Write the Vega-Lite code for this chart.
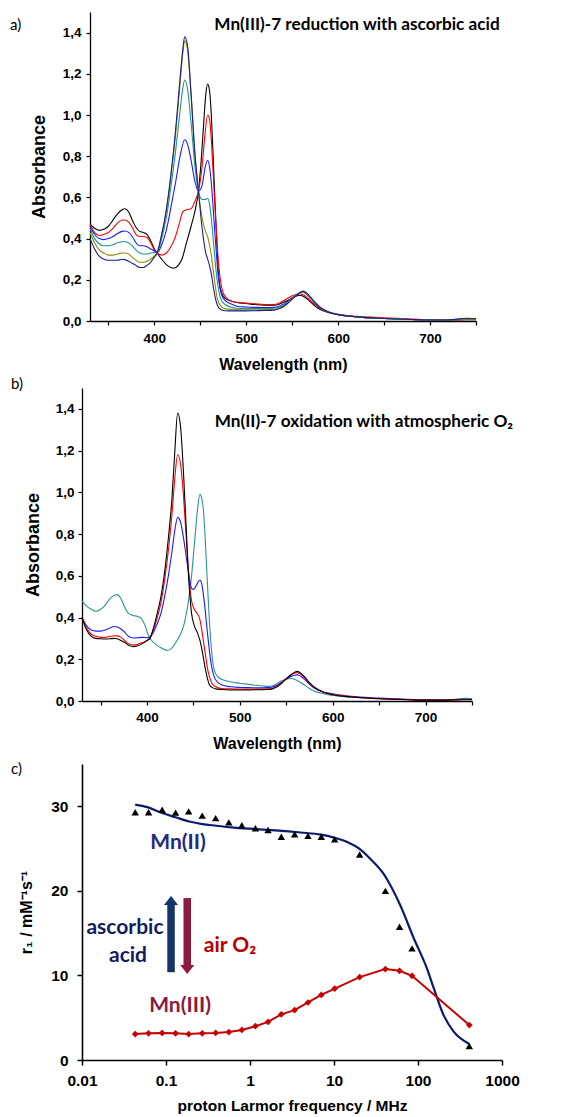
{
  "$schema": "https://vega.github.io/schema/vega-lite/v6.json",
  "background": "white",
  "padding": {"left": 10, "top": 12, "right": 5, "bottom": 0},
  "config": {
    "view": {"stroke": null},
    "axis": {"grid": false, "domainColor": "black", "tickColor": "black", "labelColor": "black", "titleColor": "black", "labelFont": "Liberation Sans", "titleFont": "Liberation Sans", "labelFontWeight": "bold", "titleFontWeight": "bold", "labelOverlap": false, "labelFlush": false}
  },
  "resolve": {"scale": {"color": "independent"}},
  "datasets": {
    "specA": [
      {"c":"k","w":330,"a":0.47},{"c":"k","w":335,"a":0.45},{"c":"k","w":340,"a":0.44},{"c":"k","w":345,"a":0.445},{"c":"k","w":350,"a":0.46},{"c":"k","w":355,"a":0.49},{"c":"k","w":360,"a":0.52},{"c":"k","w":365,"a":0.54},{"c":"k","w":368,"a":0.545},{"c":"k","w":372,"a":0.53},{"c":"k","w":376,"a":0.49},{"c":"k","w":380,"a":0.455},{"c":"k","w":384,"a":0.435},{"c":"k","w":388,"a":0.43},{"c":"k","w":392,"a":0.42},{"c":"k","w":396,"a":0.39},{"c":"k","w":400,"a":0.35},{"c":"k","w":403,"a":0.33},{"c":"k","w":408,"a":0.30},{"c":"k","w":414,"a":0.27},{"c":"k","w":421,"a":0.256},{"c":"k","w":426,"a":0.27},{"c":"k","w":430,"a":0.30},{"c":"k","w":435,"a":0.38},{"c":"k","w":440,"a":0.46},{"c":"k","w":444,"a":0.53},{"c":"k","w":448,"a":0.63},{"c":"k","w":451,"a":0.78},{"c":"k","w":454,"a":0.98},{"c":"k","w":456,"a":1.10},{"c":"k","w":458,"a":1.15},{"c":"k","w":460,"a":1.12},{"c":"k","w":462,"a":1.00},{"c":"k","w":464,"a":0.80},{"c":"k","w":466,"a":0.58},{"c":"k","w":468,"a":0.38},{"c":"k","w":470,"a":0.22},{"c":"k","w":473,"a":0.14},{"c":"k","w":477,"a":0.11},{"c":"k","w":485,"a":0.095},{"c":"k","w":490,"a":0.09},{"c":"k","w":500,"a":0.085},{"c":"k","w":510,"a":0.08},{"c":"k","w":520,"a":0.077},{"c":"k","w":530,"a":0.077},{"c":"k","w":535,"a":0.08},{"c":"k","w":540,"a":0.09},{"c":"k","w":545,"a":0.10},{"c":"k","w":550,"a":0.113},{"c":"k","w":555,"a":0.122},{"c":"k","w":558,"a":0.125},{"c":"k","w":562,"a":0.12},{"c":"k","w":566,"a":0.108},{"c":"k","w":570,"a":0.092},{"c":"k","w":575,"a":0.072},{"c":"k","w":580,"a":0.057},{"c":"k","w":590,"a":0.04},{"c":"k","w":600,"a":0.03},{"c":"k","w":620,"a":0.02},{"c":"k","w":650,"a":0.012},{"c":"k","w":680,"a":0.007},{"c":"k","w":700,"a":0.005},{"c":"k","w":720,"a":0.004},{"c":"k","w":740,"a":0.006},{"c":"k","w":750,"a":0.006},
      {"c":"r","w":330,"a":0.47},{"c":"r","w":335,"a":0.43},{"c":"r","w":340,"a":0.415},{"c":"r","w":345,"a":0.42},{"c":"r","w":350,"a":0.43},{"c":"r","w":355,"a":0.45},{"c":"r","w":360,"a":0.475},{"c":"r","w":365,"a":0.49},{"c":"r","w":368,"a":0.49},{"c":"r","w":372,"a":0.48},{"c":"r","w":376,"a":0.455},{"c":"r","w":380,"a":0.42},{"c":"r","w":384,"a":0.41},{"c":"r","w":388,"a":0.41},{"c":"r","w":392,"a":0.405},{"c":"r","w":396,"a":0.38},{"c":"r","w":400,"a":0.345},{"c":"r","w":403,"a":0.33},{"c":"r","w":408,"a":0.32},{"c":"r","w":413,"a":0.33},{"c":"r","w":418,"a":0.36},{"c":"r","w":423,"a":0.41},{"c":"r","w":427,"a":0.47},{"c":"r","w":431,"a":0.53},{"c":"r","w":435,"a":0.54},{"c":"r","w":440,"a":0.545},{"c":"r","w":444,"a":0.58},{"c":"r","w":448,"a":0.63},{"c":"r","w":452,"a":0.75},{"c":"r","w":455,"a":0.90},{"c":"r","w":458,"a":1.00},{"c":"r","w":460,"a":0.98},{"c":"r","w":462,"a":0.88},{"c":"r","w":464,"a":0.72},{"c":"r","w":466,"a":0.55},{"c":"r","w":468,"a":0.40},{"c":"r","w":470,"a":0.27},{"c":"r","w":473,"a":0.17},{"c":"r","w":477,"a":0.12},{"c":"r","w":485,"a":0.095},{"c":"r","w":490,"a":0.09},{"c":"r","w":500,"a":0.087},{"c":"r","w":510,"a":0.083},{"c":"r","w":520,"a":0.08},{"c":"r","w":530,"a":0.08},{"c":"r","w":535,"a":0.085},{"c":"r","w":540,"a":0.097},{"c":"r","w":545,"a":0.11},{"c":"r","w":550,"a":0.122},{"c":"r","w":555,"a":0.13},{"c":"r","w":558,"a":0.132},{"c":"r","w":562,"a":0.127},{"c":"r","w":566,"a":0.115},{"c":"r","w":570,"a":0.098},{"c":"r","w":575,"a":0.078},{"c":"r","w":580,"a":0.062},{"c":"r","w":590,"a":0.043},{"c":"r","w":600,"a":0.033},{"c":"r","w":620,"a":0.023},{"c":"r","w":650,"a":0.016},{"c":"r","w":680,"a":0.01},{"c":"r","w":700,"a":0.006},{"c":"r","w":720,"a":0.005},{"c":"r","w":740,"a":0.007},{"c":"r","w":750,"a":0.007},
      {"c":"b","w":330,"a":0.46},{"c":"b","w":335,"a":0.42},{"c":"b","w":340,"a":0.40},{"c":"b","w":345,"a":0.395},{"c":"b","w":350,"a":0.40},{"c":"b","w":355,"a":0.41},{"c":"b","w":360,"a":0.425},{"c":"b","w":365,"a":0.435},{"c":"b","w":368,"a":0.437},{"c":"b","w":372,"a":0.43},{"c":"b","w":376,"a":0.41},{"c":"b","w":380,"a":0.38},{"c":"b","w":384,"a":0.365},{"c":"b","w":388,"a":0.365},{"c":"b","w":392,"a":0.36},{"c":"b","w":396,"a":0.35},{"c":"b","w":400,"a":0.34},{"c":"b","w":403,"a":0.33},{"c":"b","w":408,"a":0.37},{"c":"b","w":413,"a":0.44},{"c":"b","w":418,"a":0.55},{"c":"b","w":423,"a":0.67},{"c":"b","w":428,"a":0.80},{"c":"b","w":433,"a":0.88},{"c":"b","w":436,"a":0.86},{"c":"b","w":440,"a":0.78},{"c":"b","w":444,"a":0.68},{"c":"b","w":448,"a":0.63},{"c":"b","w":452,"a":0.66},{"c":"b","w":455,"a":0.74},{"c":"b","w":458,"a":0.78},{"c":"b","w":460,"a":0.75},{"c":"b","w":462,"a":0.67},{"c":"b","w":464,"a":0.55},{"c":"b","w":466,"a":0.42},{"c":"b","w":468,"a":0.30},{"c":"b","w":470,"a":0.20},{"c":"b","w":473,"a":0.13},{"c":"b","w":477,"a":0.10},{"c":"b","w":485,"a":0.08},{"c":"b","w":490,"a":0.072},{"c":"b","w":500,"a":0.068},{"c":"b","w":510,"a":0.066},{"c":"b","w":520,"a":0.065},{"c":"b","w":530,"a":0.066},{"c":"b","w":535,"a":0.07},{"c":"b","w":540,"a":0.08},{"c":"b","w":545,"a":0.095},{"c":"b","w":550,"a":0.112},{"c":"b","w":555,"a":0.128},{"c":"b","w":559,"a":0.138},{"c":"b","w":562,"a":0.14},{"c":"b","w":566,"a":0.128},{"c":"b","w":570,"a":0.11},{"c":"b","w":575,"a":0.085},{"c":"b","w":580,"a":0.065},{"c":"b","w":590,"a":0.042},{"c":"b","w":600,"a":0.032},{"c":"b","w":620,"a":0.02},{"c":"b","w":650,"a":0.012},{"c":"b","w":680,"a":0.007},{"c":"b","w":700,"a":0.005},{"c":"b","w":720,"a":0.005},{"c":"b","w":740,"a":0.012},{"c":"b","w":750,"a":0.01},
      {"c":"t","w":330,"a":0.45},{"c":"t","w":335,"a":0.40},{"c":"t","w":340,"a":0.375},{"c":"t","w":345,"a":0.365},{"c":"t","w":350,"a":0.365},{"c":"t","w":355,"a":0.37},{"c":"t","w":360,"a":0.38},{"c":"t","w":365,"a":0.385},{"c":"t","w":368,"a":0.385},{"c":"t","w":372,"a":0.38},{"c":"t","w":376,"a":0.365},{"c":"t","w":380,"a":0.345},{"c":"t","w":384,"a":0.33},{"c":"t","w":388,"a":0.325},{"c":"t","w":392,"a":0.325},{"c":"t","w":396,"a":0.33},{"c":"t","w":400,"a":0.332},{"c":"t","w":403,"a":0.33},{"c":"t","w":408,"a":0.40},{"c":"t","w":413,"a":0.50},{"c":"t","w":418,"a":0.65},{"c":"t","w":423,"a":0.82},{"c":"t","w":428,"a":1.02},{"c":"t","w":431,"a":1.13},{"c":"t","w":433,"a":1.17},{"c":"t","w":436,"a":1.13},{"c":"t","w":440,"a":0.96},{"c":"t","w":444,"a":0.76},{"c":"t","w":448,"a":0.63},{"c":"t","w":452,"a":0.59},{"c":"t","w":455,"a":0.59},{"c":"t","w":458,"a":0.595},{"c":"t","w":460,"a":0.57},{"c":"t","w":462,"a":0.50},{"c":"t","w":464,"a":0.40},{"c":"t","w":466,"a":0.30},{"c":"t","w":468,"a":0.21},{"c":"t","w":470,"a":0.15},{"c":"t","w":473,"a":0.10},{"c":"t","w":477,"a":0.08},{"c":"t","w":485,"a":0.065},{"c":"t","w":490,"a":0.062},{"c":"t","w":500,"a":0.06},{"c":"t","w":510,"a":0.06},{"c":"t","w":520,"a":0.06},{"c":"t","w":530,"a":0.062},{"c":"t","w":535,"a":0.066},{"c":"t","w":540,"a":0.075},{"c":"t","w":545,"a":0.09},{"c":"t","w":550,"a":0.11},{"c":"t","w":555,"a":0.127},{"c":"t","w":559,"a":0.137},{"c":"t","w":562,"a":0.14},{"c":"t","w":566,"a":0.13},{"c":"t","w":570,"a":0.112},{"c":"t","w":575,"a":0.087},{"c":"t","w":580,"a":0.066},{"c":"t","w":590,"a":0.042},{"c":"t","w":600,"a":0.031},{"c":"t","w":620,"a":0.02},{"c":"t","w":650,"a":0.012},{"c":"t","w":680,"a":0.007},{"c":"t","w":700,"a":0.005},{"c":"t","w":720,"a":0.005},{"c":"t","w":740,"a":0.01},{"c":"t","w":750,"a":0.009},
      {"c":"o","w":330,"a":0.43},{"c":"o","w":335,"a":0.38},{"c":"o","w":340,"a":0.345},{"c":"o","w":345,"a":0.33},{"c":"o","w":350,"a":0.32},{"c":"o","w":355,"a":0.32},{"c":"o","w":360,"a":0.325},{"c":"o","w":365,"a":0.33},{"c":"o","w":368,"a":0.33},{"c":"o","w":372,"a":0.325},{"c":"o","w":376,"a":0.31},{"c":"o","w":380,"a":0.295},{"c":"o","w":384,"a":0.285},{"c":"o","w":388,"a":0.285},{"c":"o","w":392,"a":0.29},{"c":"o","w":396,"a":0.30},{"c":"o","w":400,"a":0.315},{"c":"o","w":403,"a":0.33},{"c":"o","w":408,"a":0.42},{"c":"o","w":413,"a":0.53},{"c":"o","w":418,"a":0.70},{"c":"o","w":423,"a":0.90},{"c":"o","w":428,"a":1.15},{"c":"o","w":431,"a":1.30},{"c":"o","w":433,"a":1.36},{"c":"o","w":436,"a":1.32},{"c":"o","w":440,"a":1.10},{"c":"o","w":444,"a":0.82},{"c":"o","w":448,"a":0.63},{"c":"o","w":452,"a":0.50},{"c":"o","w":456,"a":0.43},{"c":"o","w":458,"a":0.41},{"c":"o","w":460,"a":0.37},{"c":"o","w":462,"a":0.32},{"c":"o","w":464,"a":0.25},{"c":"o","w":466,"a":0.18},{"c":"o","w":468,"a":0.12},{"c":"o","w":470,"a":0.09},{"c":"o","w":473,"a":0.07},{"c":"o","w":477,"a":0.06},{"c":"o","w":485,"a":0.056},{"c":"o","w":490,"a":0.055},{"c":"o","w":500,"a":0.054},{"c":"o","w":510,"a":0.054},{"c":"o","w":520,"a":0.055},{"c":"o","w":530,"a":0.057},{"c":"o","w":535,"a":0.062},{"c":"o","w":540,"a":0.072},{"c":"o","w":545,"a":0.088},{"c":"o","w":550,"a":0.108},{"c":"o","w":555,"a":0.126},{"c":"o","w":559,"a":0.138},{"c":"o","w":562,"a":0.141},{"c":"o","w":566,"a":0.131},{"c":"o","w":570,"a":0.113},{"c":"o","w":575,"a":0.088},{"c":"o","w":580,"a":0.067},{"c":"o","w":590,"a":0.043},{"c":"o","w":600,"a":0.031},{"c":"o","w":620,"a":0.02},{"c":"o","w":650,"a":0.012},{"c":"o","w":680,"a":0.007},{"c":"o","w":700,"a":0.005},{"c":"o","w":720,"a":0.005},{"c":"o","w":740,"a":0.01},{"c":"o","w":750,"a":0.009},
      {"c":"n","w":330,"a":0.40},{"c":"n","w":335,"a":0.35},{"c":"n","w":340,"a":0.315},{"c":"n","w":345,"a":0.30},{"c":"n","w":350,"a":0.295},{"c":"n","w":355,"a":0.295},{"c":"n","w":360,"a":0.295},{"c":"n","w":365,"a":0.30},{"c":"n","w":368,"a":0.298},{"c":"n","w":372,"a":0.29},{"c":"n","w":376,"a":0.28},{"c":"n","w":380,"a":0.27},{"c":"n","w":384,"a":0.26},{"c":"n","w":388,"a":0.26},{"c":"n","w":392,"a":0.27},{"c":"n","w":396,"a":0.285},{"c":"n","w":400,"a":0.31},{"c":"n","w":403,"a":0.33},{"c":"n","w":408,"a":0.42},{"c":"n","w":413,"a":0.54},{"c":"n","w":418,"a":0.71},{"c":"n","w":423,"a":0.92},{"c":"n","w":428,"a":1.18},{"c":"n","w":431,"a":1.32},{"c":"n","w":433,"a":1.38},{"c":"n","w":436,"a":1.34},{"c":"n","w":440,"a":1.10},{"c":"n","w":444,"a":0.82},{"c":"n","w":448,"a":0.63},{"c":"n","w":452,"a":0.45},{"c":"n","w":456,"a":0.33},{"c":"n","w":458,"a":0.30},{"c":"n","w":460,"a":0.27},{"c":"n","w":462,"a":0.23},{"c":"n","w":464,"a":0.17},{"c":"n","w":466,"a":0.12},{"c":"n","w":468,"a":0.085},{"c":"n","w":470,"a":0.065},{"c":"n","w":473,"a":0.055},{"c":"n","w":477,"a":0.05},{"c":"n","w":485,"a":0.049},{"c":"n","w":490,"a":0.049},{"c":"n","w":500,"a":0.049},{"c":"n","w":510,"a":0.05},{"c":"n","w":520,"a":0.051},{"c":"n","w":530,"a":0.053},{"c":"n","w":535,"a":0.058},{"c":"n","w":540,"a":0.068},{"c":"n","w":545,"a":0.085},{"c":"n","w":550,"a":0.106},{"c":"n","w":555,"a":0.126},{"c":"n","w":559,"a":0.14},{"c":"n","w":562,"a":0.145},{"c":"n","w":566,"a":0.135},{"c":"n","w":570,"a":0.116},{"c":"n","w":575,"a":0.09},{"c":"n","w":580,"a":0.068},{"c":"n","w":590,"a":0.043},{"c":"n","w":600,"a":0.031},{"c":"n","w":620,"a":0.02},{"c":"n","w":650,"a":0.012},{"c":"n","w":680,"a":0.007},{"c":"n","w":700,"a":0.005},{"c":"n","w":720,"a":0.005},{"c":"n","w":740,"a":0.013},{"c":"n","w":750,"a":0.011}
    ],
    "specB": [
      {"c":"t","w":330,"a":0.48},{"c":"t","w":335,"a":0.455},{"c":"t","w":340,"a":0.44},{"c":"t","w":345,"a":0.43},{"c":"t","w":350,"a":0.44},{"c":"t","w":355,"a":0.46},{"c":"t","w":360,"a":0.49},{"c":"t","w":364,"a":0.505},{"c":"t","w":368,"a":0.51},{"c":"t","w":372,"a":0.49},{"c":"t","w":376,"a":0.45},{"c":"t","w":380,"a":0.42},{"c":"t","w":385,"a":0.41},{"c":"t","w":390,"a":0.405},{"c":"t","w":394,"a":0.395},{"c":"t","w":398,"a":0.36},{"c":"t","w":401,"a":0.32},{"c":"t","w":405,"a":0.29},{"c":"t","w":410,"a":0.27},{"c":"t","w":415,"a":0.255},{"c":"t","w":422,"a":0.242},{"c":"t","w":427,"a":0.255},{"c":"t","w":431,"a":0.28},{"c":"t","w":435,"a":0.31},{"c":"t","w":440,"a":0.37},{"c":"t","w":444,"a":0.46},{"c":"t","w":448,"a":0.60},{"c":"t","w":451,"a":0.75},{"c":"t","w":454,"a":0.90},{"c":"t","w":457,"a":0.99},{"c":"t","w":459,"a":0.97},{"c":"t","w":461,"a":0.90},{"c":"t","w":463,"a":0.75},{"c":"t","w":465,"a":0.57},{"c":"t","w":467,"a":0.40},{"c":"t","w":469,"a":0.27},{"c":"t","w":471,"a":0.18},{"c":"t","w":474,"a":0.13},{"c":"t","w":478,"a":0.11},{"c":"t","w":485,"a":0.097},{"c":"t","w":495,"a":0.088},{"c":"t","w":505,"a":0.082},{"c":"t","w":515,"a":0.077},{"c":"t","w":525,"a":0.072},{"c":"t","w":532,"a":0.07},{"c":"t","w":538,"a":0.078},{"c":"t","w":544,"a":0.095},{"c":"t","w":550,"a":0.105},{"c":"t","w":555,"a":0.108},{"c":"t","w":560,"a":0.102},{"c":"t","w":565,"a":0.09},{"c":"t","w":570,"a":0.075},{"c":"t","w":575,"a":0.06},{"c":"t","w":580,"a":0.048},{"c":"t","w":590,"a":0.035},{"c":"t","w":600,"a":0.026},{"c":"t","w":620,"a":0.018},{"c":"t","w":650,"a":0.011},{"c":"t","w":680,"a":0.007},{"c":"t","w":700,"a":0.005},{"c":"t","w":720,"a":0.005},{"c":"t","w":740,"a":0.012},{"c":"t","w":745,"a":0.013},{"c":"t","w":750,"a":0.01},
      {"c":"b","w":330,"a":0.40},{"c":"b","w":335,"a":0.36},{"c":"b","w":340,"a":0.34},{"c":"b","w":345,"a":0.335},{"c":"b","w":350,"a":0.335},{"c":"b","w":355,"a":0.34},{"c":"b","w":360,"a":0.35},{"c":"b","w":365,"a":0.357},{"c":"b","w":368,"a":0.355},{"c":"b","w":372,"a":0.345},{"c":"b","w":376,"a":0.33},{"c":"b","w":380,"a":0.31},{"c":"b","w":385,"a":0.302},{"c":"b","w":390,"a":0.303},{"c":"b","w":395,"a":0.305},{"c":"b","w":400,"a":0.303},{"c":"b","w":403,"a":0.305},{"c":"b","w":407,"a":0.33},{"c":"b","w":411,"a":0.37},{"c":"b","w":415,"a":0.42},{"c":"b","w":419,"a":0.50},{"c":"b","w":423,"a":0.60},{"c":"b","w":427,"a":0.72},{"c":"b","w":430,"a":0.82},{"c":"b","w":433,"a":0.88},{"c":"b","w":436,"a":0.86},{"c":"b","w":439,"a":0.79},{"c":"b","w":442,"a":0.70},{"c":"b","w":445,"a":0.61},{"c":"b","w":448,"a":0.54},{"c":"b","w":450,"a":0.535},{"c":"b","w":452,"a":0.545},{"c":"b","w":455,"a":0.57},{"c":"b","w":457,"a":0.58},{"c":"b","w":459,"a":0.56},{"c":"b","w":461,"a":0.50},{"c":"b","w":463,"a":0.42},{"c":"b","w":465,"a":0.33},{"c":"b","w":467,"a":0.25},{"c":"b","w":469,"a":0.18},{"c":"b","w":472,"a":0.12},{"c":"b","w":476,"a":0.09},{"c":"b","w":482,"a":0.075},{"c":"b","w":490,"a":0.068},{"c":"b","w":500,"a":0.065},{"c":"b","w":510,"a":0.064},{"c":"b","w":520,"a":0.063},{"c":"b","w":530,"a":0.064},{"c":"b","w":535,"a":0.067},{"c":"b","w":540,"a":0.076},{"c":"b","w":545,"a":0.09},{"c":"b","w":550,"a":0.105},{"c":"b","w":555,"a":0.117},{"c":"b","w":559,"a":0.123},{"c":"b","w":562,"a":0.125},{"c":"b","w":566,"a":0.117},{"c":"b","w":570,"a":0.102},{"c":"b","w":575,"a":0.08},{"c":"b","w":580,"a":0.062},{"c":"b","w":590,"a":0.043},{"c":"b","w":600,"a":0.035},{"c":"b","w":620,"a":0.022},{"c":"b","w":650,"a":0.014},{"c":"b","w":680,"a":0.008},{"c":"b","w":700,"a":0.005},{"c":"b","w":720,"a":0.005},{"c":"b","w":740,"a":0.008},{"c":"b","w":750,"a":0.008},
      {"c":"r","w":330,"a":0.40},{"c":"r","w":335,"a":0.35},{"c":"r","w":340,"a":0.32},{"c":"r","w":345,"a":0.31},{"c":"r","w":350,"a":0.305},{"c":"r","w":355,"a":0.305},{"c":"r","w":360,"a":0.31},{"c":"r","w":365,"a":0.313},{"c":"r","w":368,"a":0.312},{"c":"r","w":372,"a":0.305},{"c":"r","w":376,"a":0.29},{"c":"r","w":380,"a":0.275},{"c":"r","w":385,"a":0.268},{"c":"r","w":390,"a":0.272},{"c":"r","w":395,"a":0.28},{"c":"r","w":400,"a":0.29},{"c":"r","w":403,"a":0.30},{"c":"r","w":407,"a":0.34},{"c":"r","w":411,"a":0.40},{"c":"r","w":415,"a":0.47},{"c":"r","w":419,"a":0.58},{"c":"r","w":423,"a":0.72},{"c":"r","w":427,"a":0.90},{"c":"r","w":430,"a":1.07},{"c":"r","w":433,"a":1.18},{"c":"r","w":436,"a":1.14},{"c":"r","w":439,"a":1.00},{"c":"r","w":442,"a":0.80},{"c":"r","w":445,"a":0.60},{"c":"r","w":448,"a":0.48},{"c":"r","w":451,"a":0.44},{"c":"r","w":454,"a":0.42},{"c":"r","w":457,"a":0.39},{"c":"r","w":459,"a":0.34},{"c":"r","w":461,"a":0.28},{"c":"r","w":463,"a":0.22},{"c":"r","w":465,"a":0.16},{"c":"r","w":467,"a":0.12},{"c":"r","w":470,"a":0.085},{"c":"r","w":474,"a":0.068},{"c":"r","w":480,"a":0.06},{"c":"r","w":490,"a":0.058},{"c":"r","w":500,"a":0.057},{"c":"r","w":510,"a":0.057},{"c":"r","w":520,"a":0.057},{"c":"r","w":530,"a":0.058},{"c":"r","w":535,"a":0.061},{"c":"r","w":540,"a":0.071},{"c":"r","w":545,"a":0.088},{"c":"r","w":550,"a":0.108},{"c":"r","w":555,"a":0.125},{"c":"r","w":559,"a":0.134},{"c":"r","w":562,"a":0.136},{"c":"r","w":566,"a":0.127},{"c":"r","w":570,"a":0.11},{"c":"r","w":575,"a":0.085},{"c":"r","w":580,"a":0.065},{"c":"r","w":590,"a":0.042},{"c":"r","w":600,"a":0.032},{"c":"r","w":620,"a":0.02},{"c":"r","w":650,"a":0.012},{"c":"r","w":680,"a":0.007},{"c":"r","w":700,"a":0.004},{"c":"r","w":720,"a":0.004},{"c":"r","w":740,"a":0.007},{"c":"r","w":750,"a":0.007},
      {"c":"k","w":330,"a":0.40},{"c":"k","w":335,"a":0.34},{"c":"k","w":340,"a":0.31},{"c":"k","w":345,"a":0.30},{"c":"k","w":350,"a":0.298},{"c":"k","w":355,"a":0.297},{"c":"k","w":360,"a":0.298},{"c":"k","w":365,"a":0.30},{"c":"k","w":368,"a":0.298},{"c":"k","w":372,"a":0.29},{"c":"k","w":376,"a":0.28},{"c":"k","w":380,"a":0.268},{"c":"k","w":385,"a":0.26},{"c":"k","w":390,"a":0.265},{"c":"k","w":395,"a":0.275},{"c":"k","w":400,"a":0.29},{"c":"k","w":403,"a":0.30},{"c":"k","w":407,"a":0.35},{"c":"k","w":411,"a":0.42},{"c":"k","w":415,"a":0.50},{"c":"k","w":419,"a":0.62},{"c":"k","w":423,"a":0.78},{"c":"k","w":427,"a":0.98},{"c":"k","w":430,"a":1.20},{"c":"k","w":433,"a":1.38},{"c":"k","w":436,"a":1.32},{"c":"k","w":439,"a":1.12},{"c":"k","w":442,"a":0.85},{"c":"k","w":445,"a":0.58},{"c":"k","w":448,"a":0.42},{"c":"k","w":451,"a":0.36},{"c":"k","w":454,"a":0.33},{"c":"k","w":457,"a":0.29},{"c":"k","w":459,"a":0.25},{"c":"k","w":461,"a":0.20},{"c":"k","w":463,"a":0.15},{"c":"k","w":465,"a":0.11},{"c":"k","w":467,"a":0.08},{"c":"k","w":470,"a":0.065},{"c":"k","w":474,"a":0.058},{"c":"k","w":480,"a":0.055},{"c":"k","w":490,"a":0.053},{"c":"k","w":500,"a":0.053},{"c":"k","w":510,"a":0.053},{"c":"k","w":520,"a":0.054},{"c":"k","w":530,"a":0.055},{"c":"k","w":535,"a":0.058},{"c":"k","w":540,"a":0.068},{"c":"k","w":545,"a":0.085},{"c":"k","w":550,"a":0.106},{"c":"k","w":555,"a":0.126},{"c":"k","w":559,"a":0.138},{"c":"k","w":562,"a":0.142},{"c":"k","w":566,"a":0.132},{"c":"k","w":570,"a":0.114},{"c":"k","w":575,"a":0.088},{"c":"k","w":580,"a":0.067},{"c":"k","w":590,"a":0.042},{"c":"k","w":600,"a":0.03},{"c":"k","w":620,"a":0.019},{"c":"k","w":650,"a":0.011},{"c":"k","w":680,"a":0.006},{"c":"k","w":700,"a":0.004},{"c":"k","w":720,"a":0.004},{"c":"k","w":740,"a":0.006},{"c":"k","w":750,"a":0.006}
    ],
    "fitC": [
      {"f":0.043,"r":30.2},{"f":0.06,"r":29.9},{"f":0.09,"r":29.2},{"f":0.13,"r":28.7},{"f":0.19,"r":28.2},{"f":0.27,"r":27.9},{"f":0.4,"r":27.7},{"f":0.6,"r":27.5},{"f":1,"r":27.35},{"f":2,"r":27.15},{"f":4,"r":26.9},{"f":7,"r":26.65},{"f":10,"r":26.3},{"f":15,"r":25.7},{"f":20,"r":25.0},{"f":27,"r":23.8},{"f":39,"r":22.0},{"f":49,"r":20.3},{"f":61.5,"r":18.3},{"f":89,"r":14.4},{"f":128,"r":10.8},{"f":154,"r":8.5},{"f":202,"r":5.3},{"f":266,"r":3.35},{"f":408,"r":1.9}
    ],
    "mn2C": [
      {"f":0.043,"r":29.3},{"f":0.062,"r":29.3},{"f":0.09,"r":29.6},{"f":0.13,"r":29.25},{"f":0.186,"r":29.4},{"f":0.27,"r":28.9},{"f":0.39,"r":28.6},{"f":0.56,"r":28.1},{"f":0.8,"r":27.75},{"f":1.16,"r":27.4},{"f":1.64,"r":27.2},{"f":2.36,"r":26.4},{"f":3.4,"r":26.7},{"f":4.9,"r":26.5},{"f":7.06,"r":26.4},{"f":10.2,"r":26.1},{"f":20.2,"r":24.3},{"f":40.9,"r":20.0},{"f":60.3,"r":15.75},{"f":84.9,"r":13.2},{"f":408,"r":1.65}
    ],
    "mn3C": [
      {"f":0.043,"r":3.07},{"f":0.062,"r":3.15},{"f":0.09,"r":3.2},{"f":0.13,"r":3.15},{"f":0.186,"r":3.07},{"f":0.27,"r":3.15},{"f":0.39,"r":3.2},{"f":0.56,"r":3.3},{"f":0.8,"r":3.55},{"f":1.16,"r":4.0},{"f":1.64,"r":4.5},{"f":2.36,"r":5.4},{"f":3.4,"r":5.9},{"f":4.9,"r":6.8},{"f":7.06,"r":7.7},{"f":10.2,"r":8.45},{"f":20.2,"r":9.8},{"f":40.9,"r":10.75},{"f":60.3,"r":10.55},{"f":84.9,"r":9.95},{"f":408,"r":4.13}
    ],
    "arrowsC": [
      {"d":"up","f":0.1148,"r1":10.38,"r2":18.5,"h":18.86},
      {"d":"down","f":0.179,"r1":19.15,"r2":11.0,"h":10.7}
    ],
    "textC": [
      {"g":"mn2","t":"Mn(II)","f":0.139,"r":25.7},
      {"g":"acid","t":"ascorbic","f":0.0325,"r":15.6},
      {"g":"acid","t":"acid","f":0.0353,"r":12.3},
      {"g":"o2","t":"air O₂","f":0.578,"r":13.5},
      {"g":"mn3","t":"Mn(III)","f":0.147,"r":6.4}
    ]
  },
  "concat": [
    {
      "width": 394,
      "height": 309,
      "layer": [
        {
          "data": {"name": "specA"},
          "mark": {"type": "line", "strokeWidth": 1.1, "interpolate": "monotone"},
          "encoding": {
            "x": {"field": "w", "type": "quantitative", "title": "Wavelength (nm)",
              "scale": {"domain": [330, 750], "range": [8, 394], "nice": false, "zero": false},
              "axis": {"values": [350, 400, 450, 500, 550, 600, 650, 700, 750], "labelExpr": "datum.value % 100 === 0 ? datum.label : ''", "tickSize": 4, "labelPadding": 6, "labelFontSize": 13.5, "titleFontSize": 16, "titlePadding": 12, "domainWidth": 1.3, "tickWidth": 1.2}},
            "y": {"field": "a", "type": "quantitative", "title": "Absorbance",
              "scale": {"domain": [0, 1.5], "nice": false},
              "axis": {"values": [0, 0.1, 0.2, 0.3, 0.4, 0.5, 0.6, 0.7, 0.8, 0.9, 1.0, 1.1, 1.2, 1.3, 1.4], "labelExpr": "round(datum.value * 10) % 2 === 0 ? replace(format(datum.value, '.1f'), '.', ',') : ''", "tickSize": 4, "labelPadding": 5, "labelFontSize": 13.5, "titleFontSize": 18, "titlePadding": 14, "offset": -8, "domainWidth": 1.3, "tickWidth": 1.2}},
            "color": {"field": "c", "type": "nominal", "legend": null,
              "scale": {"domain": ["k", "r", "b", "t", "o", "n"], "range": ["#000000", "#ff0000", "#1a1aff", "#1a9494", "#8f8f00", "#1c1c8c"]}}
          }
        },
        {
          "data": {"values": [{"t": "a)", "x": 243, "y": 1.437}]},
          "mark": {"type": "text", "font": "Lato", "fontSize": 15, "align": "left", "baseline": "middle", "color": "black"},
          "encoding": {
            "x": {"field": "x", "type": "quantitative", "title": "Wavelength (nm)", "scale": {"domain": [330, 750], "range": [8, 394], "nice": false, "zero": false}},
            "y": {"field": "y", "type": "quantitative", "title": "Absorbance", "scale": {"domain": [0, 1.5], "nice": false}},
            "text": {"field": "t"}
          }
        },
        {
          "data": {"values": [{"t": "Mn(III)-7 reduction with ascorbic acid", "x": 620.5, "y": 1.437}]},
          "mark": {"type": "text", "font": "Lato", "fontSize": 17.2, "fontWeight": "bold", "align": "center", "baseline": "middle", "color": "black"},
          "encoding": {
            "x": {"field": "x", "type": "quantitative", "title": "Wavelength (nm)", "scale": {"domain": [330, 750], "range": [8, 394], "nice": false, "zero": false}},
            "y": {"field": "y", "type": "quantitative", "title": "Absorbance", "scale": {"domain": [0, 1.5], "nice": false}},
            "text": {"field": "t"}
          }
        }
      ]
    },
    {
      "width": 390,
      "height": 313,
      "layer": [
        {
          "data": {"name": "specB"},
          "mark": {"type": "line", "strokeWidth": 1.1, "interpolate": "monotone"},
          "encoding": {
            "x": {"field": "w", "type": "quantitative", "title": "Wavelength (nm)",
              "scale": {"domain": [330, 750], "nice": false, "zero": false},
              "axis": {"values": [350, 400, 450, 500, 550, 600, 650, 700, 750], "labelExpr": "datum.value % 100 === 0 ? datum.label : ''", "tickSize": 4, "labelPadding": 5, "labelFontSize": 13.5, "titleFontSize": 16, "titlePadding": 12, "domainWidth": 1.3, "tickWidth": 1.2}},
            "y": {"field": "a", "type": "quantitative", "title": "Absorbance",
              "scale": {"domain": [0, 1.5], "nice": false},
              "axis": {"values": [0, 0.1, 0.2, 0.3, 0.4, 0.5, 0.6, 0.7, 0.8, 0.9, 1.0, 1.1, 1.2, 1.3, 1.4], "labelExpr": "round(datum.value * 10) % 2 === 0 ? replace(format(datum.value, '.1f'), '.', ',') : ''", "tickSize": 4, "labelPadding": 4, "labelFontSize": 13.5, "titleFontSize": 18, "titlePadding": 13, "domainWidth": 1.3, "tickWidth": 1.2}},
            "color": {"field": "c", "type": "nominal", "legend": null,
              "scale": {"domain": ["t", "b", "r", "k"], "range": ["#2a9494", "#1a1aff", "#ff0000", "#000000"]}}
          }
        },
        {
          "data": {"values": [{"t": "b)", "x": 253.6, "y": 1.52}]},
          "mark": {"type": "text", "font": "Lato", "fontSize": 15, "align": "left", "baseline": "middle", "color": "black"},
          "encoding": {
            "x": {"field": "x", "type": "quantitative", "title": "Wavelength (nm)", "scale": {"domain": [330, 750], "nice": false, "zero": false}},
            "y": {"field": "y", "type": "quantitative", "title": "Absorbance", "scale": {"domain": [0, 1.5], "nice": false}},
            "text": {"field": "t"}
          }
        },
        {
          "data": {"values": [{"t": "Mn(II)-7 oxidation with atmospheric O₂", "x": 633.6, "y": 1.336}]},
          "mark": {"type": "text", "font": "Lato", "fontSize": 17.2, "fontWeight": "bold", "align": "center", "baseline": "middle", "color": "black"},
          "encoding": {
            "x": {"field": "x", "type": "quantitative", "title": "Wavelength (nm)", "scale": {"domain": [330, 750], "nice": false, "zero": false}},
            "y": {"field": "y", "type": "quantitative", "title": "Absorbance", "scale": {"domain": [0, 1.5], "nice": false}},
            "text": {"field": "t"}
          }
        }
      ]
    },
    {
      "width": 420,
      "height": 296,
      "layer": [
        {
          "data": {"name": "fitC"},
          "mark": {"type": "line", "strokeWidth": 2.2, "color": "#0d1a6e", "interpolate": "monotone"},
          "encoding": {
            "x": {"field": "f", "type": "quantitative", "title": "proton Larmor frequency / MHz",
              "scale": {"type": "log", "domain": [0.01, 1000], "nice": false},
              "axis": {"values": [0.01, 0.1, 1, 10, 100, 1000], "labelExpr": "format(datum.value, '~g')", "tickSize": 5, "labelPadding": 8, "labelFontSize": 15.5, "titleFontSize": 15.5, "titlePadding": 10, "domainWidth": 1.6, "tickWidth": 1.5}},
            "y": {"field": "r", "type": "quantitative", "title": "r₁ / mM⁻¹s⁻¹",
              "scale": {"domain": [0, 35], "nice": false},
              "axis": {"values": [0, 10, 20, 30], "tickSize": 5, "labelPadding": 9, "labelFontSize": 15.5, "titleFontSize": 16, "titlePadding": 16, "domainWidth": 1.6, "tickWidth": 1.5}}
          }
        },
        {
          "data": {"name": "mn3C"},
          "mark": {"type": "line", "strokeWidth": 2, "color": "#c80000", "point": {"shape": "diamond", "size": 45, "filled": true, "color": "#c80000"}},
          "encoding": {
            "x": {"field": "f", "type": "quantitative", "title": "proton Larmor frequency / MHz", "scale": {"type": "log", "domain": [0.01, 1000], "nice": false}},
            "y": {"field": "r", "type": "quantitative", "title": "r₁ / mM⁻¹s⁻¹", "scale": {"domain": [0, 35], "nice": false}}
          }
        },
        {
          "data": {"name": "mn2C"},
          "mark": {"type": "point", "shape": "triangle-up", "size": 55, "filled": true, "color": "black", "opacity": 1},
          "encoding": {
            "x": {"field": "f", "type": "quantitative", "title": "proton Larmor frequency / MHz", "scale": {"type": "log", "domain": [0.01, 1000], "nice": false}},
            "y": {"field": "r", "type": "quantitative", "title": "r₁ / mM⁻¹s⁻¹", "scale": {"domain": [0, 35], "nice": false}}
          }
        },
        {
          "data": {"name": "arrowsC"},
          "transform": [{"filter": "datum.d === 'up'"}],
          "layer": [
            {
              "mark": {"type": "rule", "strokeWidth": 7.5, "color": "#14346a", "strokeCap": "butt"},
              "encoding": {
                "x": {"field": "f", "type": "quantitative", "title": "proton Larmor frequency / MHz", "scale": {"type": "log", "domain": [0.01, 1000], "nice": false}},
                "y": {"field": "r1", "type": "quantitative", "title": "r₁ / mM⁻¹s⁻¹", "scale": {"domain": [0, 35], "nice": false}},
                "y2": {"field": "r2"}
              }
            },
            {
              "mark": {"type": "point", "shape": "M-1,0.64L1,0.64L0,-0.64Z", "size": 200, "filled": true, "color": "#14346a", "opacity": 1},
              "encoding": {
                "x": {"field": "f", "type": "quantitative", "title": "proton Larmor frequency / MHz", "scale": {"type": "log", "domain": [0.01, 1000], "nice": false}},
                "y": {"field": "h", "type": "quantitative", "title": "r₁ / mM⁻¹s⁻¹", "scale": {"domain": [0, 35], "nice": false}}
              }
            }
          ]
        },
        {
          "data": {"name": "arrowsC"},
          "transform": [{"filter": "datum.d === 'down'"}],
          "layer": [
            {
              "mark": {"type": "rule", "strokeWidth": 7.5, "color": "#8e1a42", "strokeCap": "butt"},
              "encoding": {
                "x": {"field": "f", "type": "quantitative", "title": "proton Larmor frequency / MHz", "scale": {"type": "log", "domain": [0.01, 1000], "nice": false}},
                "y": {"field": "r1", "type": "quantitative", "title": "r₁ / mM⁻¹s⁻¹", "scale": {"domain": [0, 35], "nice": false}},
                "y2": {"field": "r2"}
              }
            },
            {
              "mark": {"type": "point", "shape": "M-1,-0.64L1,-0.64L0,0.64Z", "size": 200, "filled": true, "color": "#8e1a42", "opacity": 1},
              "encoding": {
                "x": {"field": "f", "type": "quantitative", "title": "proton Larmor frequency / MHz", "scale": {"type": "log", "domain": [0.01, 1000], "nice": false}},
                "y": {"field": "h", "type": "quantitative", "title": "r₁ / mM⁻¹s⁻¹", "scale": {"domain": [0, 35], "nice": false}}
              }
            }
          ]
        },
        {
          "data": {"name": "textC"},
          "mark": {"type": "text", "font": "Lato", "fontSize": 21, "fontWeight": "bold", "align": "center", "baseline": "middle"},
          "encoding": {
            "x": {"field": "f", "type": "quantitative", "title": "proton Larmor frequency / MHz", "scale": {"type": "log", "domain": [0.01, 1000], "nice": false}},
            "y": {"field": "r", "type": "quantitative", "title": "r₁ / mM⁻¹s⁻¹", "scale": {"domain": [0, 35], "nice": false}},
            "text": {"field": "t"},
            "color": {"field": "g", "type": "nominal", "legend": null,
              "scale": {"domain": ["mn2", "acid", "o2", "mn3"], "range": ["#22297c", "#151b5e", "#b80000", "#8b1a40"]}}
          }
        },
        {
          "data": {"values": [{"t": "c)", "f": 0.00143, "r": 34.4}]},
          "mark": {"type": "text", "font": "Lato", "fontSize": 15, "align": "left", "baseline": "middle", "color": "black"},
          "encoding": {
            "x": {"field": "f", "type": "quantitative", "title": "proton Larmor frequency / MHz", "scale": {"type": "log", "domain": [0.01, 1000], "nice": false}},
            "y": {"field": "r", "type": "quantitative", "title": "r₁ / mM⁻¹s⁻¹", "scale": {"domain": [0, 35], "nice": false}},
            "text": {"field": "t"}
          }
        }
      ]
    }
  ],
  "columns": 1,
  "align": "all",
  "spacing": 0
}
